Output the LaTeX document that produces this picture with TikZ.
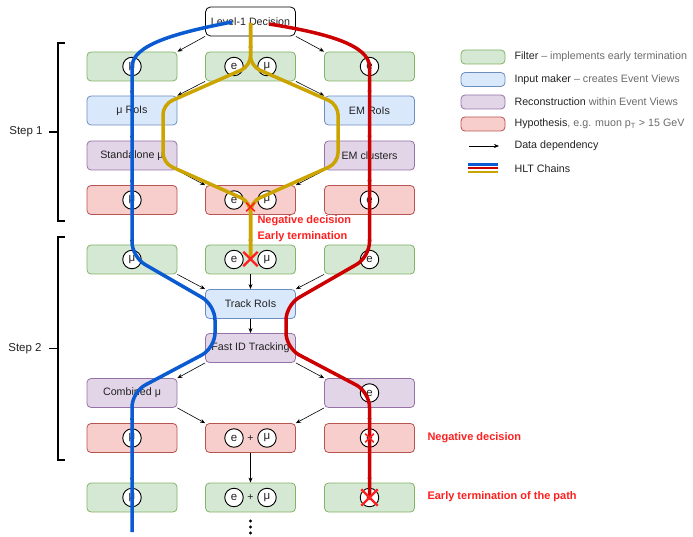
\documentclass[tikz,border=0pt]{standalone}
\usepackage{fontspec}
\setmainfont{Liberation Sans}
\usetikzlibrary{arrows.meta,shapes.misc}

\definecolor{filterfill}{HTML}{D5E8D4}\definecolor{filterdraw}{HTML}{82B366}
\definecolor{inputfill}{HTML}{DAE8FC}\definecolor{inputdraw}{HTML}{6C8EBF}
\definecolor{recofill}{HTML}{E1D5E7}\definecolor{recodraw}{HTML}{9673A6}
\definecolor{hypofill}{HTML}{F8CECC}\definecolor{hypodraw}{HTML}{B85450}
\definecolor{chainblue}{HTML}{0A5AD2}
\definecolor{chainred}{HTML}{CC0000}
\definecolor{chaingold}{HTML}{CCA400}
\definecolor{xred}{HTML}{FF1F1F}
\definecolor{txt}{HTML}{222222}
\definecolor{lighttxt}{HTML}{6A6A6A}

\tikzset{
  box/.style={rounded corners=4pt, minimum width=90pt, minimum height=29pt,
    line width=0.8pt, inner sep=0pt, text=txt, font=\fontsize{10.7}{12}\selectfont},
  filterbox/.style={box, fill=filterfill, draw=filterdraw},
  inputbox/.style={box, fill=inputfill, draw=inputdraw},
  recobox/.style={box, fill=recofill, draw=recodraw},
  hypobox/.style={box, fill=hypofill, draw=hypodraw},
  decisionbox/.style={box, fill=white, draw=black, rounded corners=5pt},
  legendbox/.style={rounded corners=4pt, minimum width=44pt, minimum height=14pt,
    line width=0.8pt, inner sep=0pt},
  obj/.style={circle, draw=black, fill=white, line width=0.9pt, minimum size=18.5pt,
    inner sep=0pt, text=txt, font=\fontsize{11.5}{12}\selectfont},
  plus/.style={inner sep=0pt, text=txt, font=\fontsize{10.5}{12}\selectfont},
  dep/.style={-{Stealth[length=5pt,width=4pt]}, line width=0.6pt, black},
  chain/.style={line width=3.5pt, rounded corners=15pt},
  smallx/.style={cross out, draw=xred, line width=1.6pt, minimum size=7pt, inner sep=0pt},
  bigx/.style={cross out, draw=xred, line width=2.4pt, minimum size=12pt, inner sep=0pt},
  warn/.style={anchor=west, text=xred, font=\bfseries\fontsize{11}{13}\selectfont},
  legtext/.style={anchor=west, text=txt, font=\fontsize{10.7}{12}\selectfont},
  steplabel/.style={text=txt, font=\fontsize{11.5}{13}\selectfont},
  bracket/.style={line width=1.1pt, black},
}

\begin{document}
\begin{tikzpicture}[x=1pt,y=-1pt]
\useasboundingbox (0,0) rectangle (693,537);

% ---------------- Step 1 ----------------
\node[decisionbox] (l1) at (250.5,21.5) {Level-1 Decision};

\node[filterbox] (f1L) at (132,66.5) {};
\node[filterbox] (f1M) at (250.5,66.5) {};
\node[filterbox] (f1R) at (369.5,66.5) {};

\node[inputbox] (i2L) at (132,110.5) {μ RoIs};
\node[inputbox] (i2R) at (369.5,110.5) {EM RoIs};

\node[recobox] (r3L) at (132,155.5) {Standalone μ};
\node[recobox] (r3R) at (369.5,155.5) {EM clusters};

\node[hypobox] (h4L) at (132,200) {};
\node[hypobox] (h4M) at (250.5,200) {};
\node[hypobox] (h4R) at (369.5,200) {};

% ---------------- Step 2 ----------------
\node[filterbox] (f5L) at (132,259.5) {};
\node[filterbox] (f5M) at (250.5,259.5) {};
\node[filterbox] (f5R) at (369.5,259.5) {};

\node[inputbox] (trk) at (250.5,304) {Track RoIs};
\node[recobox] (fid) at (250.5,348) {Fast ID Tracking};

\node[recobox] (r7L) at (132,393) {Combined μ};
\node[recobox] (r7R) at (369.5,393) {};

\node[hypobox] (h8L) at (132,438) {};
\node[hypobox] (h8M) at (250.5,438) {};
\node[hypobox] (h8R) at (369.5,438) {};

\node[filterbox] (f9L) at (132,497.5) {};
\node[filterbox] (f9M) at (250.5,497.5) {};
\node[filterbox] (f9R) at (369.5,497.5) {};

% ---------------- data dependencies ----------------
\draw[dep] (l1.south west) -- (f1L.north east);
\draw[dep] (l1.south) -- (f1M.north);
\draw[dep] (l1.south east) -- (f1R.north west);

\draw[dep] (f1L.south) -- (i2L.north);
\draw[dep] (f1M.south west) -- (i2L.north east);
\draw[dep] (f1M.south east) -- (i2R.north west);
\draw[dep] (f1R.south) -- (i2R.north);

\draw[dep] (i2L.south) -- (r3L.north);
\draw[dep] (i2R.south) -- (r3R.north);

\draw[dep] (r3L.south) -- (h4L.north);
\draw[dep] (r3L.south east) -- (h4M.north west);
\draw[dep] (r3R.south west) -- (h4M.north east);
\draw[dep] (r3R.south) -- (h4R.north);

\draw[dep] (h4L.south) -- (f5L.north);
\draw[dep] (h4M.south) -- (f5M.north);
\draw[dep] (h4R.south) -- (f5R.north);

\draw[dep] (f5L.south east) -- (trk.north west);
\draw[dep] (f5M.south) -- (trk.north);
\draw[dep] (f5R.south west) -- (trk.north east);

\draw[dep] (trk.south) -- (fid.north);

\draw[dep] (fid.south west) -- (r7L.north east);
\draw[dep] (fid.south east) -- (r7R.north west);

\draw[dep] (r7L.south) -- (h8L.north);
\draw[dep] (r7L.south east) -- (h8M.north west);
\draw[dep] (r7R.south west) -- (h8M.north east);
\draw[dep] (r7R.south) -- (h8R.north);

\draw[dep] (h8L.south) -- (f9L.north);
\draw[dep] (h8M.south) -- (f9M.north);
\draw[dep] (h8R.south) -- (f9R.north);

% ---------------- objects carried by each chain ----------------
\node[obj] (o1L) at (f1L) {μ};
\node[obj] (o1Me) at ([xshift=-16.5pt]f1M.center) {e};
\node[obj] (o1Mm) at ([xshift=16.5pt]f1M.center) {μ};
\node[obj] (o1R) at (f1R) {e};

\node[obj] (o4L) at (h4L) {μ};
\node[obj] (o4Me) at ([xshift=-16.5pt]h4M.center) {e};
\node[obj] (o4Mm) at ([xshift=16.5pt]h4M.center) {μ};
\node[obj] (o4R) at (h4R) {e};

\node[obj] (o5L) at (f5L) {μ};
\node[obj] (o5Me) at ([xshift=-16.5pt]f5M.center) {e};
\node[obj] (o5Mm) at ([xshift=16.5pt]f5M.center) {μ};
\node[obj] (o5R) at (f5R) {e};

\node[obj] (o7R) at (r7R) {e};

\node[obj] (o8L) at (h8L) {μ};
\node[obj] (o8Me) at ([xshift=-16.5pt]h8M.center) {e};
\node[plus] (p8M) at (h8M) {+};
\node[obj] (o8Mm) at ([xshift=16.5pt]h8M.center) {μ};
\node[obj] (o8R) at (h8R) {e};

\node[obj] (o9L) at (f9L) {μ};
\node[obj] (o9Me) at ([xshift=-16.5pt]f9M.center) {e};
\node[plus] (p9M) at (f9M) {+};
\node[obj] (o9Mm) at ([xshift=16.5pt]f9M.center) {μ};
\node[obj] (o9R) at (f9R) {e};

% continuation dots
\foreach \yy in {521,527,533}
  \fill[black] (250.5,\yy) circle (1.6pt);

% ---------------- HLT chains ----------------
\draw[chain, chainblue] (232,22) .. controls (175,33) and (132,45) .. (132,82)
  -- (132,257) -- (215,305) -- (215,348) -- (132,392) -- (132,532);
\draw[chain, chainred] (269,24) .. controls (326,33) and (369.5,45) .. (369.5,82)
  -- (369.5,257) -- (286,305) -- (286,348) -- (369.5,392) -- (369.5,497);
\draw[chain, chaingold, rounded corners=10pt] (250.5,23) -- (250.5,66)
  -- (163,104.5) -- (163,163) -- (250.5,202) -- (250.5,258);
\draw[chain, chaingold, rounded corners=10pt] (250.5,23) -- (250.5,66)
  -- (338,104.5) -- (338,163) -- (250.5,202) -- (250.5,258);

% ---------------- rejections ----------------
\node[smallx] (x4M) at (250.5,207) {};
\node[bigx] (x5M) at (250.5,259) {};
\node[smallx] (x8R) at (o8R) {};
\node[bigx, minimum size=14pt] (x9R) at (o9R) {};

\node[warn] (w1) at (254,221) {Negative decision};
\node[warn] (w2) at (254,237) {Early termination};
\node[warn] (w3) at (424,438) {Negative decision};
\node[warn] (w4) at (424,497) {Early termination of the path};

% ---------------- steps ----------------
\draw[bracket] (65,43) -- (58,43) -- (58,221) -- (65,221);
\draw[bracket] (49,132) -- (58,132);
\node[steplabel] (s1) at (26,132) {Step 1};
\draw[bracket] (65,237) -- (58,237) -- (58,460) -- (65,460);
\draw[bracket] (49,348.5) -- (58,348.5);
\node[steplabel] (s2) at (25,348.5) {Step 2};

% ---------------- legend ----------------
\node[legendbox, fill=filterfill, draw=filterdraw] (lg1) at (483,57) {};
\node[legendbox, fill=inputfill, draw=inputdraw] (lg2) at (483,79.5) {};
\node[legendbox, fill=recofill, draw=recodraw] (lg3) at (483,102) {};
\node[legendbox, fill=hypofill, draw=hypodraw] (lg4) at (483,124) {};
\node[legtext] (lt1) at (511,57) {Filter \textcolor{lighttxt}{– implements early termination}};
\node[legtext] (lt2) at (511,79.5) {Input maker \textcolor{lighttxt}{– creates Event Views}};
\node[legtext] (lt3) at (511,102) {Reconstruction \textcolor{lighttxt}{within Event Views}};
\node[legtext] (lt4) at (511,124) {Hypothesis\textcolor{lighttxt}{, e.g. muon p\textsubscript{T} > 15 GeV}};
\coordinate (la0) at (469,146);
\coordinate (la1) at (499,146);
\draw[dep] (la0) -- (la1);
\node[legtext] (lt5) at (511,146) {Data dependency};
\coordinate (lc0) at (468,164.5);
\coordinate (lc1) at (498,164.5);
\coordinate (lc2) at (468,168.2);
\coordinate (lc3) at (498,168.2);
\coordinate (lc4) at (468,171.9);
\coordinate (lc5) at (498,171.9);
\draw[line width=2.2pt, chainblue] (lc0) -- (lc1);
\draw[line width=2.2pt, chainred] (lc2) -- (lc3);
\draw[line width=2.2pt, chaingold] (lc4) -- (lc5);
\node[legtext] (lt6) at (511,168.2) {HLT Chains};
\end{tikzpicture}
\end{document}
